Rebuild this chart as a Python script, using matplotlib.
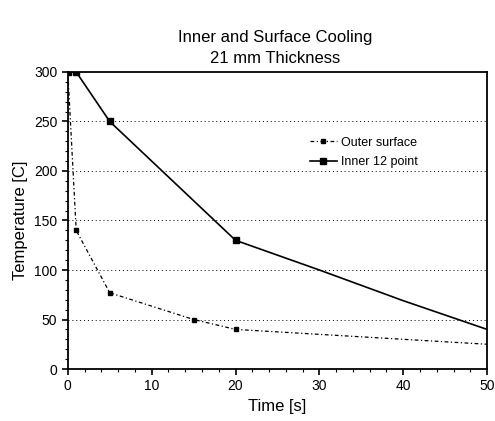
import matplotlib.pyplot as plt
from matplotlib.ticker import MultipleLocator

plt.rcParams['font.family'] = ['Liberation Sans', 'DejaVu Sans']

# data
outer_time = [0, 1, 5, 15, 20, 30, 40, 50]
outer_temp = [300, 140, 77, 50, 40, 35, 30, 25]
outer_marks = [0, 1, 2, 3, 4]

inner_time = [0, 1, 5, 20, 30, 40, 50]
inner_temp = [300, 300, 250, 130, 100, 69, 40]
inner_marks = [0, 1, 2, 3]

fig = plt.figure(figsize=(4.95, 4.21), dpi=100)
ax = fig.add_axes([0.137, 0.1235, 0.847, 0.7055])

ax.plot(outer_time, outer_temp, color='black', lw=0.9, ls=(0, (3, 2, 1, 2)),
        marker='s', ms=3.5, markevery=outer_marks, label='Outer surface')
ax.plot(inner_time, inner_temp, color='black', lw=1.2, ls='-',
        marker='s', ms=4.5, markevery=inner_marks, label='Inner 12 point')

ax.set_xlim(0, 50)
ax.set_ylim(0, 300)
ax.xaxis.set_major_locator(MultipleLocator(10))
ax.xaxis.set_minor_locator(MultipleLocator(2))
ax.yaxis.set_major_locator(MultipleLocator(50))
ax.yaxis.set_minor_locator(MultipleLocator(10))
ax.tick_params(which='major', length=4, width=1.2, labelsize=10)
ax.tick_params(which='minor', length=2, width=0.8)
for s in ax.spines.values():
    s.set_linewidth(1.3)

for y in [50, 100, 150, 200, 250]:
    ax.axhline(y, color='black', lw=0.7, ls=(0, (1, 3)), zorder=0)

ax.set_xlabel('Time [s]', fontsize=12)
ax.set_ylabel('Temperature [C]', fontsize=12)
fig.text(0.555, 0.885, 'Inner and Surface Cooling\n21 mm Thickness',
         ha='center', va='center', fontsize=12, linespacing=1.5)

ax.legend(loc='upper left', bbox_to_anchor=(0.55, 0.82), frameon=False,
          fontsize=9, handlelength=2.2, handletextpad=0.3, labelspacing=0.6)

fig.savefig('out.png', dpi=100)
